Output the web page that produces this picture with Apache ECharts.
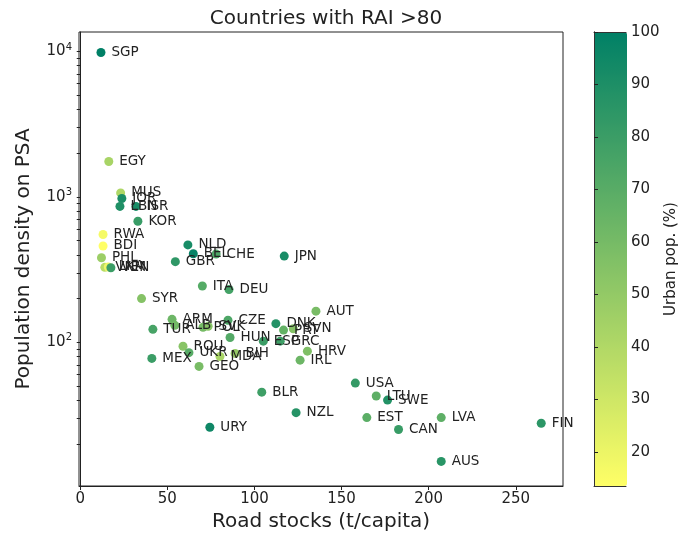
<!DOCTYPE html>
<html>
<head>
<meta charset="utf-8">
<title>Countries with RAI >80</title>
<script src="https://cdn.jsdelivr.net/npm/echarts@6/dist/echarts.min.js"></script>
</head>
<body style="margin:0;padding:0">
<div id="main" style="width:680px;height:540px;"></div>
<script type="text/javascript">
// data
var countries = ['SGP', 'EGY', 'MUS', 'JOR', 'LBN', 'ISR', 'KOR', 'RWA', 'BDI', 'PHL', 'VNM', 'LKA', 'VEN',
    'NLD', 'BEL', 'CHE', 'GBR', 'JPN', 'ITA', 'DEU', 'SYR', 'AUT', 'TUR', 'ARM', 'ALB', 'POL', 'SVK',
    'CZE', 'HUN', 'ROU', 'UKR', 'MDA', 'BIH', 'GEO', 'MEX', 'DNK', 'PRT', 'SVN', 'ESP', 'GRC', 'HRV',
    'IRL', 'USA', 'BLR', 'LTU', 'SWE', 'NZL', 'EST', 'LVA', 'CAN', 'FIN', 'AUS', 'URY'];
var roadStocks = [11.9, 16.4, 23.2, 23.9, 22.8, 32.0, 33.1, 13.1, 13.1, 12.2, 14.1, 16.1, 17.6,
    61.8, 64.9, 78.0, 54.6, 117.1, 70.1, 85.4, 35.2, 135.3, 41.7, 52.7, 54.3, 70.5, 73.4,
    84.8, 86.0, 59.0, 62.4, 80.2, 88.9, 68.2, 41.1, 112.3, 116.7, 122.3, 105.1, 114.8, 130.4,
    126.2, 157.9, 104.2, 169.9, 176.4, 123.9, 164.5, 207.2, 182.7, 264.6, 207.2, 74.4];
var popDensity = [9840, 1750, 1065, 975, 860, 860, 680, 552, 460, 382, 328, 330, 326,
    468, 407, 405, 359, 392, 244, 231, 200, 164, 123, 144, 131, 127, 129,
    142, 108, 94, 85, 80, 84, 68.4, 77.6, 134.5, 121.5, 124, 102, 102, 87,
    75.5, 52.5, 45.5, 42.8, 40.1, 32.9, 30.4, 30.4, 25.2, 27.8, 15.2, 26.1];
var urbanPop = [100, 43, 41, 91, 89, 92, 81, 17, 13.5, 47, 37, 19, 80,
    92, 98, 74, 84, 92, 71, 77, 55, 59, 76, 63, 61, 60, 54,
    74, 72, 54, 70, 43, 49, 59, 80, 88, 66, 55, 80, 79, 57,
    63, 82, 79, 68, 88, 87, 69, 68, 81, 85, 86, 95];

var xTicks = [0, 50, 100, 150, 200, 250];
var yTicks = [20, 30, 40, 50, 60, 70, 80, 90, 100, 200, 300, 400, 500, 600, 700, 800, 900, 1000,
    2000, 3000, 4000, 5000, 6000, 7000, 8000, 9000, 10000];
var cbTicks = [20, 30, 40, 50, 60, 70, 80, 90, 100];

var myChart = echarts.init(document.getElementById('main'));
var font = 'DejaVu Sans';

var points = countries.map(function (c, i) {
    return [roadStocks[i], popDensity[i], urbanPop[i], c];
});

function powLabel(v) {
    var e = Math.log(v) / Math.LN10;
    var n = Math.round(e);
    if (Math.abs(e - n) > 1e-6) return '';
    return '{b|10}{s|' + n + '}';
}

option = {
    backgroundColor: '#fff',
    animation: false,
    title: {
        text: 'Countries with RAI >80',
        left: 321,
        textAlign: 'center',
        top: 4,
        textStyle: { fontFamily: font, fontSize: 20, fontWeight: 'normal', color: '#222' }
    },
    grid: [
        { left: 79, right: 117, top: 32, bottom: 54, show: true, borderColor: '#222', borderWidth: 1 },
        { left: 594, width: 33, top: 32, bottom: 54 }
    ],
    visualMap: {
        type: 'continuous',
        seriesIndex: 0,
        dimension: 2,
        min: 13.5,
        max: 100,
        left: 594,
        top: 32,
        padding: 0,
        itemWidth: 33,
        itemHeight: 454,
        text: null,
        calculable: false,
        hoverLink: false,
        inRange: { color: ['#ffff66', '#008066'] }
    },
    xAxis: [{
        type: 'value',
        gridIndex: 0,
        min: -0.7,
        max: 277.1,
        splitLine: { show: false },
        axisLine: { show: true, lineStyle: { color: '#222' } },
        axisTick: { show: true, customValues: xTicks, length: 4, lineStyle: { color: '#222' } },
        axisLabel: { customValues: xTicks, fontFamily: font, fontSize: 15, color: '#222', margin: 6 },
        name: 'Road stocks (t/capita)',
        nameLocation: 'middle',
        nameGap: 26,
        nameTextStyle: { fontFamily: font, fontSize: 20, color: '#222' }
    }, {
        type: 'value', gridIndex: 1, min: 0, max: 1, position: 'bottom', z: 10,
        axisLine: { show: true, lineStyle: { color: '#333' } },
        axisTick: { show: false }, axisLabel: { show: false }, splitLine: { show: false }
    }, {
        type: 'value', gridIndex: 1, min: 0, max: 1, position: 'top', z: 10,
        axisLine: { show: true, lineStyle: { color: '#333' } },
        axisTick: { show: false }, axisLabel: { show: false }, splitLine: { show: false }
    }],
    yAxis: [{
        type: 'log',
        gridIndex: 0,
        logBase: 10,
        min: 10.3,
        max: 13600,
        splitLine: { show: false },
        axisLine: { show: true, lineStyle: { color: '#222' } },
        axisTick: { show: true, customValues: yTicks, length: 3.5, lineStyle: { color: '#222' } },
        axisLabel: {
            formatter: powLabel,
            showMinLabel: false,
            showMaxLabel: false,
            margin: 7,
            rich: {
                b: { fontFamily: font, fontSize: 15, color: '#222' },
                s: { fontFamily: font, fontSize: 10, color: '#222', verticalAlign: 'top', padding: [0, 0, 9, 0] }
            }
        },
        name: 'Population density on PSA',
        nameLocation: 'middle',
        nameGap: 45,
        nameTextStyle: { fontFamily: font, fontSize: 20, color: '#222' }
    }, {
        type: 'value',
        gridIndex: 1,
        min: 13.5,
        max: 100,
        position: 'right',
        z: 10,
        splitLine: { show: false },
        axisLine: { show: true, lineStyle: { color: '#333' } },
        axisTick: { show: true, customValues: cbTicks, length: 4, lineStyle: { color: '#222' } },
        axisLabel: { customValues: cbTicks, fontFamily: font, fontSize: 15, color: '#222', margin: 5 },
        name: 'Urban pop. (%)',
        nameLocation: 'middle',
        nameGap: 38,
        nameRotate: 90,
        nameTextStyle: { fontFamily: font, fontSize: 15, color: '#222' }
    }, {
        type: 'value', gridIndex: 1, min: 13.5, max: 100, position: 'left', z: 10,
        axisLine: { show: true, lineStyle: { color: '#333' } },
        axisTick: { show: false }, axisLabel: { show: false }, splitLine: { show: false }
    }],
    series: [{
        type: 'scatter',
        xAxisIndex: 0,
        yAxisIndex: 0,
        data: points,
        symbolSize: 9,
        itemStyle: { opacity: 1 },
        label: {
            show: true,
            position: 'right',
            distance: 6,
            formatter: function (p) { return p.data[3]; },
            fontFamily: font,
            fontSize: 13.5,
            color: '#222'
        },
        emphasis: { disabled: true }
    }]
};

myChart.setOption(option);
</script>
</body>
</html>
